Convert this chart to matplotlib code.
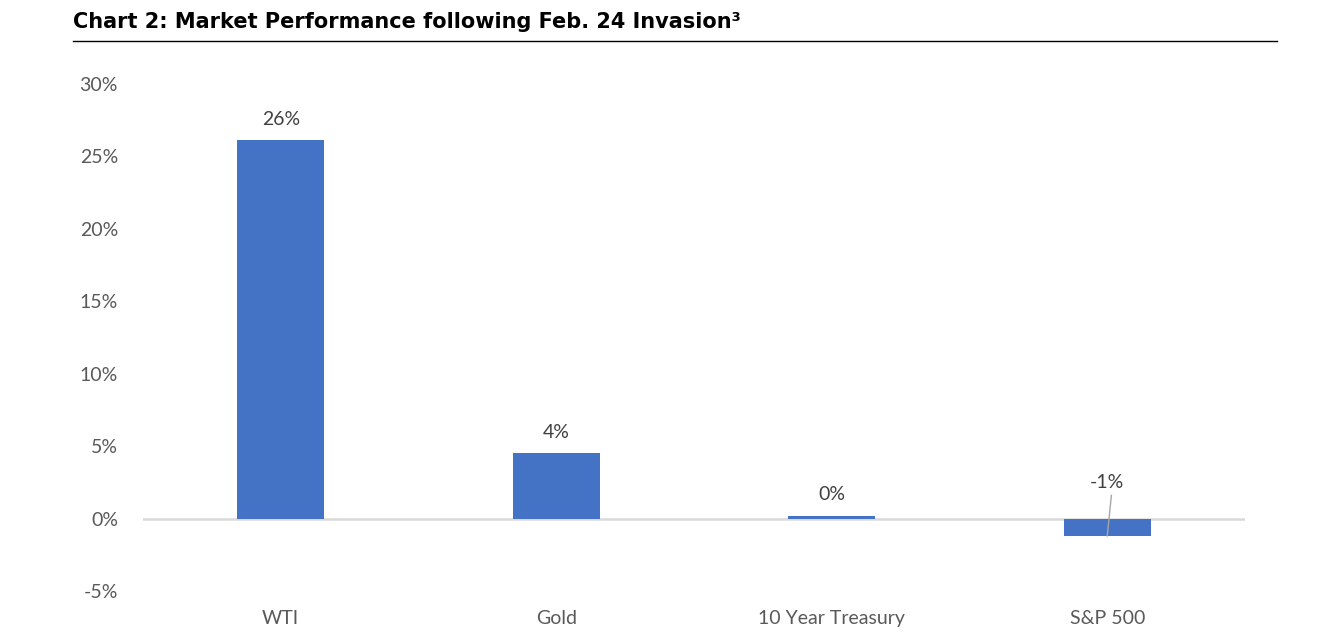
"""
Market performance following Feb. 24 invasion
"""

import matplotlib
matplotlib.use('Agg')
import matplotlib.pyplot as plt
from matplotlib.lines import Line2D

categories = ['WTI', 'Gold', '10 Year Treasury', 'S&P 500']
returns = [26.1, 4.5, 0.2, -1.2]
value_labels = ['26%', '4%', '0%', '-1%']
y_ticks = [-5, 0, 5, 10, 15, 20, 25, 30]


def main():
    plt.rcParams['font.family'] = ['Lato', 'DejaVu Sans']
    text_grey = '#595959'
    bar_blue = '#4472C4'

    fig = plt.figure(figsize=(13.42, 6.44), dpi=100)
    ax = fig.add_axes([143 / 1342, 1 - 591 / 644, (1245 - 143) / 1342, (591 - 84) / 644])

    x = range(len(categories))
    ax.bar(x, returns, width=0.316, color=bar_blue, zorder=3)
    ax.axhline(0, color='#d9d9d9', lw=1.8, zorder=2)

    for i, (val, lab) in enumerate(zip(returns, value_labels)):
        if val >= 0:
            ax.annotate(lab, (i, val), xytext=(0, 9), textcoords='offset points',
                        ha='center', va='bottom', fontsize=14, color='#404040')
        else:
            ax.annotate(lab, (i, 1.9), ha='center', va='bottom', fontsize=14,
                        color='#404040')
            ax.plot([i + 0.015, i], [1.6, val], color='#a6a6a6', lw=1, zorder=4)

    ax.set_xlim(-0.5, len(categories) - 0.5)
    ax.set_ylim(-5, 30)
    ax.set_yticks(y_ticks)
    ax.set_yticklabels([f'{t}%' for t in y_ticks])
    ax.set_xticks(list(x))
    ax.set_xticklabels(categories)
    ax.tick_params(axis='both', length=0, labelsize=14, colors=text_grey)
    ax.tick_params(axis='y', pad=18)
    ax.tick_params(axis='x', pad=14)
    for spine in ax.spines.values():
        spine.set_visible(False)

    fig.text(73 / 1342, 1 - 22 / 644, 'Chart 2: Market Performance following Feb. 24 Invasion\u00b3',
             fontsize=15, fontweight='bold', color='black', va='center', ha='left',
             family=['DejaVu Sans'])
    fig.add_artist(Line2D([73 / 1342, 1277 / 1342], [1 - 41 / 644, 1 - 41 / 644],
                          color='black', lw=1))

    fig.savefig('out.png', dpi=100)


if __name__ == "__main__":
    main()
